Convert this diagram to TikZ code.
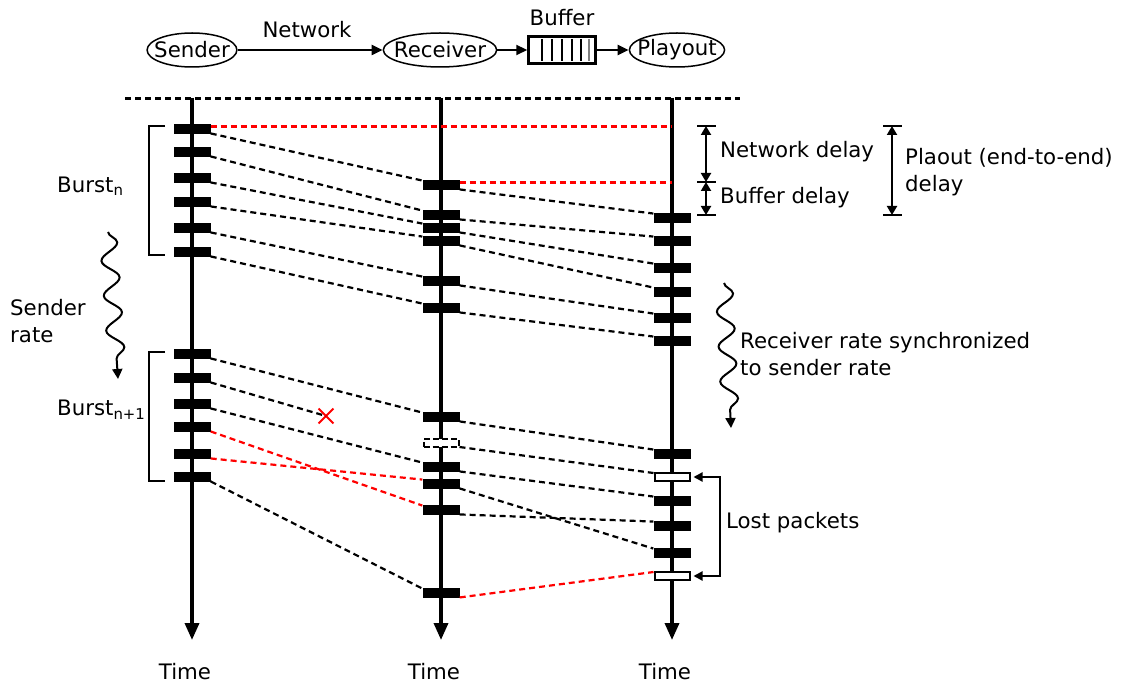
\documentclass[tikz,border=0pt]{standalone}
\usepackage{fontspec}
\setmainfont{DejaVu Sans}
\usetikzlibrary{arrows.meta,decorations.pathmorphing,shapes.misc,shapes.geometric}

\begin{document}
\begin{tikzpicture}[x=1pt,y=-1pt,
  font=\fontsize{21.3}{26.5}\selectfont,
  pkt/.style={rectangle,fill=black,minimum width=37pt,minimum height=10.5pt,inner sep=0pt},
  lostpkt/.style={rectangle,draw=black,fill=white,line width=2pt,minimum width=35pt,minimum height=8pt,inner sep=0pt},
  misspkt/.style={rectangle,draw=black,fill=white,line width=2pt,dash pattern=on 6pt off 3pt,minimum width=35pt,minimum height=8pt,inner sep=0pt},
  timeline/.style={line width=3.5pt,-{Triangle[length=17pt,width=14pt]}},
  flow/.style={line width=2.2pt,dash pattern=on 6pt off 4pt},
  lostflow/.style={flow,red},
  stage/.style={ellipse,draw,line width=1.5pt,inner xsep=-6pt,inner ysep=0pt,minimum height=34pt},
  hdrarrow/.style={line width=2.2pt,-{Triangle[length=11pt,width=10pt]}},
  dimarrow/.style={line width=2pt,{Triangle[length=9pt,width=10pt]}-{Triangle[length=9pt,width=10pt]}},
  tick/.style={line width=2pt},
  rate/.style={line width=2pt,decorate,decoration={snake,amplitude=8.5pt,segment length=35pt,post length=6pt},-{Triangle[length=10pt,width=10pt]}},
  lbl/.style={inner sep=0pt,align=left},
]
\useasboundingbox (0,0) rectangle (1122,684);

% --- pipeline header ---
\node[stage] (snd) at (192,50) {Sender};
\node[stage] (rcv) at (440,50) {Receiver};
\node[rectangle,draw,line width=2.5pt,minimum width=67pt,minimum height=27pt,inner sep=0pt] (buf) at (562,50) {};
\node[stage] (ply) at (677,50) {Playout};
\foreach \bx in {542,552,562,572,581}
  \draw[line width=2.5pt] (\bx,39) -- (\bx,61);
\draw[line width=2.5pt,gray] (589,39) -- (589,61);
\node (netlbl) at (307,30) {Network};
\node (buflbl) at (562,18) {Buffer};
\draw[hdrarrow] (snd) -- (rcv);
\draw[hdrarrow] (rcv) -- (buf);
\draw[hdrarrow] (buf) -- (ply);

% --- time axes ---
\draw[line width=3pt,dash pattern=on 6pt off 4pt] (125,99) -- (740,99);
\coordinate (st) at (192,98);  \coordinate (sb) at (192,640);
\coordinate (rt) at (441,98);  \coordinate (rb) at (441,640);
\coordinate (pt) at (672,98);  \coordinate (pb) at (672,640);
\draw[timeline] (st) -- (sb);
\draw[timeline] (rt) -- (rb);
\draw[timeline] (pt) -- (pb);
\node (ts) at (185,672) {Time};
\node (tr) at (434,672) {Time};
\node (tp) at (665,672) {Time};

% --- packets ---
\foreach \i/\y in {1/129,2/152,3/178,4/202,5/228,6/252,7/354,8/378,9/404,10/427,11/454,12/477}
  \node[pkt] (s\i) at (192,\y) {};
\foreach \i/\y in {1/185,2/215,3/228,4/241,5/281,6/308,7/417,9/467,10/484,11/510,12/593}
  \node[pkt] (r\i) at (441,\y) {};
\node[misspkt] (r8) at (441,443) {};
\foreach \i/\y in {1/218,2/241,3/268,4/292,5/318,6/341,7/454,9/501,10/526,11/553}
  \node[pkt] (p\i) at (672,\y) {};
\node[lostpkt] (p8) at (672,477) {};
\node[lostpkt] (p12) at (672,576) {};

% --- packet flows ---
\draw[lostflow] ([yshift=-3pt]s1.north east) -- ([yshift=-3pt]s1.north east -| pt);
\draw[lostflow] ([yshift=-3pt]r1.north east) -- ([yshift=-3pt]r1.north east -| pt);
\foreach \a/\b in {1/1,2/2,3/3,4/4,5/5,6/6,7/7,9/9,12/12}
  \draw[flow] ([yshift=1pt]s\a.south east) -- ([yshift=-1pt]r\b.north west);
\foreach \a/\b in {10/11,11/10}
  \draw[lostflow] ([yshift=1pt]s\a.south east) -- ([yshift=-1pt]r\b.north west);
\node[cross out,draw=red,line width=1.8pt,minimum size=13pt,inner sep=0pt] (drop) at (326,416) {};
\draw[flow] ([yshift=1pt]s8.south east) -- (drop.center);
\foreach \a/\b in {1/1,2/2,3/3,4/4,5/5,6/6,7/7,8/8,9/9,10/11,11/10}
  \draw[flow] ([yshift=1pt]r\a.south east) -- ([yshift=-1pt]p\b.north west);
\draw[lostflow] ([yshift=1pt]r12.south east) -- ([yshift=-1pt]p12.north west);

% --- bursts ---
\draw[line width=2pt] (165,126) -- (149,126) -- (149,255) -- (165,255);
\draw[line width=2pt] (165,352) -- (149,352) -- (149,481) -- (165,481);
\node[lbl,anchor=west] (bn) at (57,186) {Burst\textsubscript{n}};
\node[lbl,anchor=west] (bn1) at (57,410) {Burst\textsubscript{n+1}};
\coordinate (sr1) at (108,232);
\coordinate (sr2) at (118,379);
\draw[rate] (sr1) -- (sr2);
\node[lbl,anchor=west] (srl) at (10,321) {Sender\\rate};

% --- delays ---
\coordinate (d1) at (706,126);
\coordinate (d2) at (706,182);
\coordinate (d3) at (706,215);
\draw[tick] (697,126) -- (716,126);
\draw[tick] (697,182) -- (716,182);
\draw[tick] (697,215) -- (716,215);
\draw[dimarrow] (d1) -- (d2);
\draw[dimarrow] (d2) -- (d3);
\node[lbl,anchor=west] (ndl) at (720,152) {Network delay};
\node[lbl,anchor=west] (bdl) at (720,198) {Buffer delay};
\coordinate (e1) at (892,126);
\coordinate (e2) at (892,215);
\draw[tick] (883,126) -- (902,126);
\draw[tick] (883,215) -- (902,215);
\draw[dimarrow] (e1) -- (e2);
\node[lbl,anchor=west] (pdl) at (905,172) {Plaout (end-to-end)\\delay};

% --- receiver rate ---
\coordinate (rr1) at (724,283);
\coordinate (rr2) at (731,428);
\draw[rate] (rr1) -- (rr2);
\node[lbl,anchor=west] (rrl) at (740,354) {Receiver rate synchronized\\to sender rate};

% --- lost packets ---
\coordinate (lp1) at (720,477);
\coordinate (lp2) at (720,576);
\draw[line width=2pt,{Triangle[length=9pt,width=9pt]}-{Triangle[length=9pt,width=9pt]}]
  ([xshift=3pt]p8.east) -- (lp1) -- (lp2) -- ([xshift=3pt]p12.east);
\node[lbl,anchor=west] (lpl) at (726,523) {Lost packets};
\end{tikzpicture}
\end{document}
